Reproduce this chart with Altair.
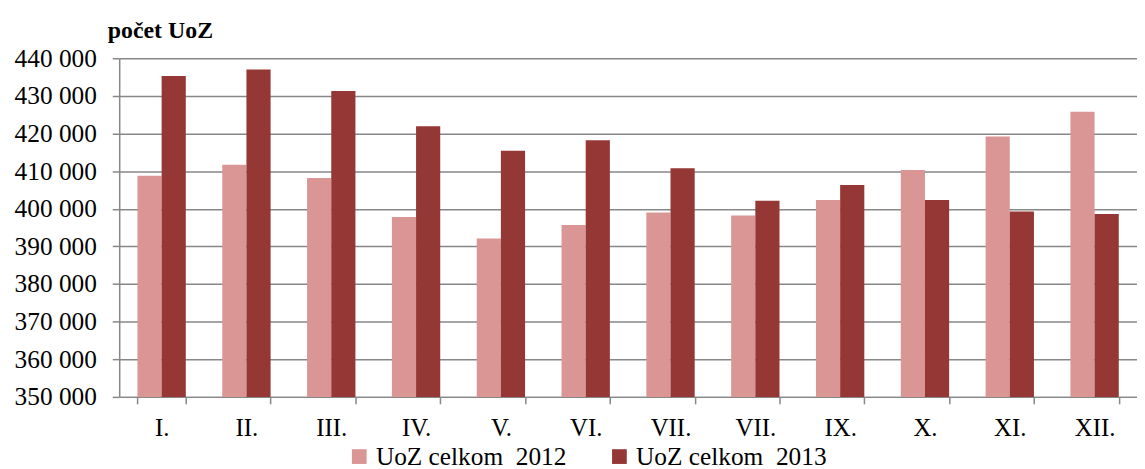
import altair as alt
import pandas as pd

months = ["I.", "II.", "III.", "IV.", "V.", "VI.", "VII.", "VII.", "IX.", "X.", "XI.", "XII."]
series = ["UoZ celkom \u00a02012", "UoZ celkom \u00a02013"]
v2012 = [408800, 411700, 408200, 397800, 392100, 395700, 399000, 398200, 402300, 410300, 419200, 425800]
v2013 = [435300, 437000, 431300, 421900, 415400, 418200, 410800, 402100, 406300, 402300, 399300, 398600]
colors = ["#D99694", "#953735"]

rows = []
for i in range(len(months)):
    rows.append({"m": i, "s": series[0], "v": v2012[i]})
    rows.append({"m": i, "s": series[1], "v": v2013[i]})
df = pd.DataFrame(rows)

label_arr = "[" + ",".join("'" + m + "'" for m in months) + "]"
FONT = "Liberation Serif, Times New Roman, serif"
GRID = "#878787"

chart = alt.Chart(df).mark_bar(clip=True).encode(
    x=alt.X("m:O", sort=list(range(12)),
            scale=alt.Scale(paddingInner=0.43, paddingOuter=0.215),
            axis=alt.Axis(title=None, labelExpr=label_arr + "[datum.value]",
                          labelAngle=0, labelFont=FONT, labelFontSize=25, labelColor="#000",
                          labelPadding=12, tickBand="extent", tickSize=7, tickColor=GRID,
                          tickWidth=1.5, domainColor=GRID, domainWidth=1.5, grid=False,
                          labelOverlap=False)),
    xOffset=alt.XOffset("s:N", sort=series, scale=alt.Scale(paddingInner=0, paddingOuter=0)),
    y=alt.Y("v:Q", scale=alt.Scale(domain=[350000, 440000], nice=False, zero=False),
            axis=alt.Axis(title="počet UoZ", values=list(range(350000, 440001, 10000)),
                          labelExpr="replace(format(datum.value, ','), ',', ' ')",
                          labelFont=FONT, labelFontSize=25.5, labelColor="#000",
                          labelPadding=16, tickSize=7, tickColor=GRID, tickWidth=1.5,
                          domainColor=GRID, domainWidth=1.5,
                          gridColor=GRID, gridWidth=1.5, gridOpacity=1,
                          titleAngle=0, titleX=-12, titleY=-21, titleAlign="left",
                          titleBaseline="alphabetic", titleFont=FONT, titleFontSize=24,
                          titleFontWeight="bold", titleColor="#000")),
    color=alt.Color("s:N", sort=series, scale=alt.Scale(domain=series, range=colors),
                    legend=alt.Legend(title=None, orient="none", direction="horizontal",
                                      legendX=229, legendY=388, symbolType="square",
                                      symbolSize=220, symbolStrokeWidth=0, labelFont=FONT,
                                      labelFontSize=25.5, labelColor="#000", labelOffset=4,
                                      labelLimit=0, columnPadding=40, padding=0)),
).properties(
    width=1025, height=341,
    autosize=alt.AutoSizeParams(type="none"),
    padding={"left": 112, "top": 49, "right": 0, "bottom": 71},
).configure_view(stroke=None)

chart.save("out.html", embed_options={"renderer": "svg", "actions": False})
